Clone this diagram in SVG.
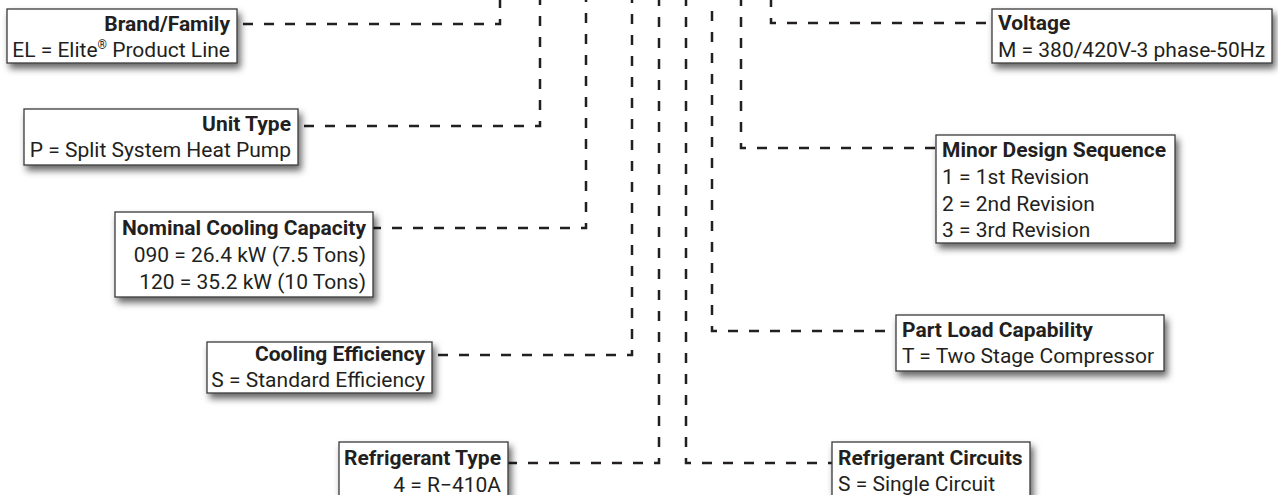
<svg xmlns="http://www.w3.org/2000/svg" width="1278" height="495" viewBox="0 0 1278 495">
  <defs>
    <filter id="shadow" x="-10%" y="-20%" width="125%" height="160%">
      <feDropShadow dx="3" dy="5" stdDeviation="3.5" flood-color="#000" flood-opacity="0.6"/>
    </filter>
    <style>
      .box { fill: #ffffff; stroke: #3a3a3a; stroke-width: 1.3; filter: url(#shadow); }
      .t { font-family: Roboto, "Liberation Sans", sans-serif; font-size: 21px; fill: #231f20; }
      .h { font-weight: bold; }
      .r { text-anchor: end; }
      .lead { fill: none; stroke: #231f20; stroke-width: 2.5; stroke-dasharray: 10 11; }
      .sup { font-size: 12px; }
    </style>
  </defs>
  <rect width="1278" height="495" fill="#ffffff"/>

  <!-- dashed leaders from each code position to its legend box -->
  <g id="connectors">
    <path class="lead" style="stroke-dashoffset:2" d="M500,0 V24 H237"/>
    <path class="lead" style="stroke-dashoffset:5" d="M540,0 V126 H298"/>
    <path class="lead" style="stroke-dashoffset:8" d="M586,0 V228 H373"/>
    <path class="lead" style="stroke-dashoffset:7" d="M632,0 V355 H432"/>
    <path class="lead" style="stroke-dashoffset:4" d="M659,0 V463 H508"/>
    <path class="lead" style="stroke-dashoffset:4" d="M686,0 V463 H832"/>
    <path class="lead" style="stroke-dashoffset:10" d="M712,0 V331 H896"/>
    <path class="lead" style="stroke-dashoffset:4" d="M741,0 V148 H936"/>
    <path class="lead" style="stroke-dashoffset:3" d="M771,0 V23 H992"/>
  </g>

  <g id="brand-family">
    <rect class="box" x="7" y="9" width="230" height="54"/>
    <text class="t h r" x="230" y="31">Brand/Family</text>
    <text class="t r" x="230" y="57">EL = Elite<tspan class="sup" dy="-8">®</tspan><tspan dy="8"> Product Line</tspan></text>
  </g>

  <g id="unit-type">
    <rect class="box" x="24" y="109" width="274" height="56"/>
    <text class="t h r" x="291" y="131">Unit Type</text>
    <text class="t r" x="291" y="157">P = Split System Heat Pump</text>
  </g>

  <g id="nominal-cooling-capacity">
    <rect class="box" x="115" y="212" width="258" height="85"/>
    <text class="t h r" x="366" y="235">Nominal Cooling Capacity</text>
    <text class="t r" x="366" y="262">090 = 26.4 kW (7.5 Tons)</text>
    <text class="t r" x="366" y="289">120 = 35.2 kW (10 Tons)</text>
  </g>

  <g id="cooling-efficiency">
    <rect class="box" x="207" y="342" width="225" height="51"/>
    <text class="t h r" x="425" y="361">Cooling Efficiency</text>
    <text class="t r" x="425" y="387">S = Standard Efficiency</text>
  </g>

  <g id="refrigerant-type">
    <rect class="box" x="339" y="442" width="169" height="62"/>
    <text class="t h r" x="501" y="465">Refrigerant Type</text>
    <text class="t r" x="501" y="492">4 = R−410A</text>
  </g>

  <g id="refrigerant-circuits">
    <rect class="box" x="832" y="442" width="198" height="62"/>
    <text class="t h" x="838" y="465">Refrigerant Circuits</text>
    <text class="t" x="838" y="491">S = Single Circuit</text>
  </g>

  <g id="part-load-capability">
    <rect class="box" x="896" y="315" width="268" height="56"/>
    <text class="t h" x="902" y="337">Part Load Capability</text>
    <text class="t" x="902" y="363">T = Two Stage Compressor</text>
  </g>

  <g id="minor-design-sequence">
    <rect class="box" x="936" y="135" width="239" height="108"/>
    <text class="t h" x="942" y="157">Minor Design Sequence</text>
    <text class="t" x="942" y="184">1 = 1st Revision</text>
    <text class="t" x="942" y="211">2 = 2nd Revision</text>
    <text class="t" x="942" y="237">3 = 3rd Revision</text>
  </g>

  <g id="voltage">
    <rect class="box" x="992" y="9" width="280" height="54"/>
    <text class="t h" x="998" y="30">Voltage</text>
    <text class="t" x="998" y="57">M = 380/420V-3 phase-50Hz</text>
  </g>
</svg>
